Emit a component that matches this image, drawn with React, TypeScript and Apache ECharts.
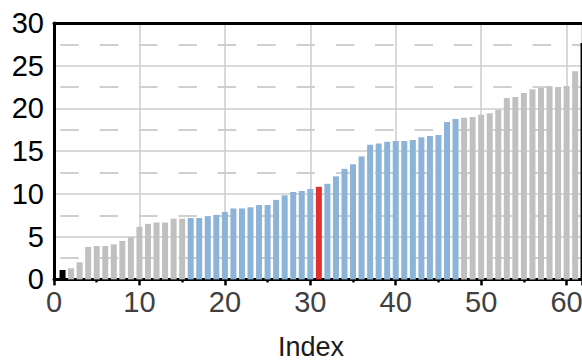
import React, { useEffect, useRef } from "react";
import * as echarts from "echarts";

const indices: number[] = [
  1, 2, 3, 4, 5, 6, 7, 8, 9, 10, 11, 12, 13, 14, 15, 16, 17, 18, 19, 20,
  21, 22, 23, 24, 25, 26, 27, 28, 29, 30, 31, 32, 33, 34, 35, 36, 37, 38, 39, 40,
  41, 42, 43, 44, 45, 46, 47, 48, 49, 50, 51, 52, 53, 54, 55, 56, 57, 58, 59, 60, 61,
];

const values: number[] = [
  1.1, 1.3, 2.0, 3.8, 3.9, 3.9, 4.1, 4.5, 4.95, 6.15,
  6.5, 6.65, 6.65, 7.1, 7.1, 7.18, 7.18, 7.4, 7.55, 7.88,
  8.3, 8.3, 8.43, 8.7, 8.7, 9.3, 9.83, 10.22, 10.34, 10.57,
  10.83, 11.18, 12.05, 12.93, 13.46, 14.38, 15.75, 15.9, 16.11, 16.19,
  16.19, 16.3, 16.62, 16.77, 16.89, 18.41, 18.76, 18.91, 18.99, 19.26,
  19.42, 19.81, 21.23, 21.32, 21.8, 22.23, 22.39, 22.58, 22.5, 22.62,
  24.34,
];

const blackIndices: number[] = [1];
const redIndices: number[] = [31];
const blueFrom = 16;
const blueTo = 47;

const xTicks: number[] = [0, 10, 20, 30, 40, 50, 60];
const yTicks: number[] = [0, 5, 10, 15, 20, 25, 30];

const FONT = "'Liberation Sans', Arial, sans-serif";

function colorFor(i: number): string {
  if (blackIndices.includes(i)) return "#000000";
  if (redIndices.includes(i)) return "#e0302f";
  if (i >= blueFrom && i <= blueTo) return "#8cb3d8";
  return "#c0c0c0";
}

export default function App() {
  const ref = useRef<HTMLDivElement>(null);

  useEffect(() => {
    if (!ref.current) return;
    const chart = echarts.init(ref.current, undefined, { renderer: "svg" });
    const xMax = 61.8;
    const data = indices.map((idx, k) => ({
      value: [idx, values[k]],
      itemStyle: { color: colorFor(idx) },
    }));
    chart.setOption({
      animation: false,
      backgroundColor: "#ffffff",
      grid: {
        left: 54,
        top: 22.9,
        right: 0,
        bottom: 81.6,
        containLabel: false,
        outerBoundsMode: "none",
      },
      xAxis: [
        {
          type: "value",
          min: xTicks[0],
          max: xMax,
          interval: 10,
          name: "Index",
          nameLocation: "middle",
          nameGap: 54,
          nameTextStyle: {
            fontFamily: FONT,
            fontSize: 27,
            color: "#1a1a1a",
            padding: [0, 14, 0, 0],
          },
          axisLine: { show: true, onZero: false, lineStyle: { color: "#000", width: 3 } },
          axisTick: { show: true, length: 6, lineStyle: { color: "#000", width: 2.5 } },
          minorTick: { show: true, splitNumber: 2, length: 3, lineStyle: { color: "#000", width: 2.5 } },
          axisLabel: {
            show: true,
            margin: 8,
            fontFamily: FONT,
            fontSize: 29,
            color: "#404040",
            showMaxLabel: false,
            hideOverlap: false,
            formatter: (v: number) => (xTicks.includes(v) ? String(v) : ""),
          },
          splitLine: { show: true, lineStyle: { color: "#cccccc", width: 1.5 } },
        },
        {
          type: "value",
          position: "top",
          min: xTicks[0],
          max: xMax,
          interval: 10,
          axisLine: { show: true, onZero: false, lineStyle: { color: "#000", width: 3 } },
          axisTick: { show: false },
          axisLabel: { show: false },
          splitLine: { show: false },
        },
      ],
      yAxis: {
        type: "value",
        min: yTicks[0],
        max: yTicks[yTicks.length - 1],
        interval: 5,
        axisLine: { show: true, onZero: false, lineStyle: { color: "#000", width: 3 } },
        axisTick: { show: false },
        minorTick: { show: false, splitNumber: 2 },
        axisLabel: {
          margin: 10,
          fontFamily: FONT,
          fontSize: 29,
          color: "#000000",
        },
        splitLine: { show: true, lineStyle: { color: "#d9d9d9", width: 2 } },
        minorSplitLine: {
          show: true,
          lineStyle: { color: "#c0c0c0", width: 1.5, type: [18.5, 20.85], dashOffset: 33.35 },
        },
      },
      series: [
        {
          type: "bar",
          xAxisIndex: 0,
          barWidth: 6,
          data,
        },
      ],
      graphic: [
        {
          type: "line",
          shape: { x1: 581.3, y1: 43, x2: 581.3, y2: 279 },
          style: { stroke: "#000", lineWidth: 1.5 },
          z: 10,
        },
      ],
    });
    return () => chart.dispose();
  }, []);

  return (
    <div
      ref={ref}
      style={{ position: "fixed", left: 0, top: 0, width: 582, height: 361 }}
    />
  );
}
